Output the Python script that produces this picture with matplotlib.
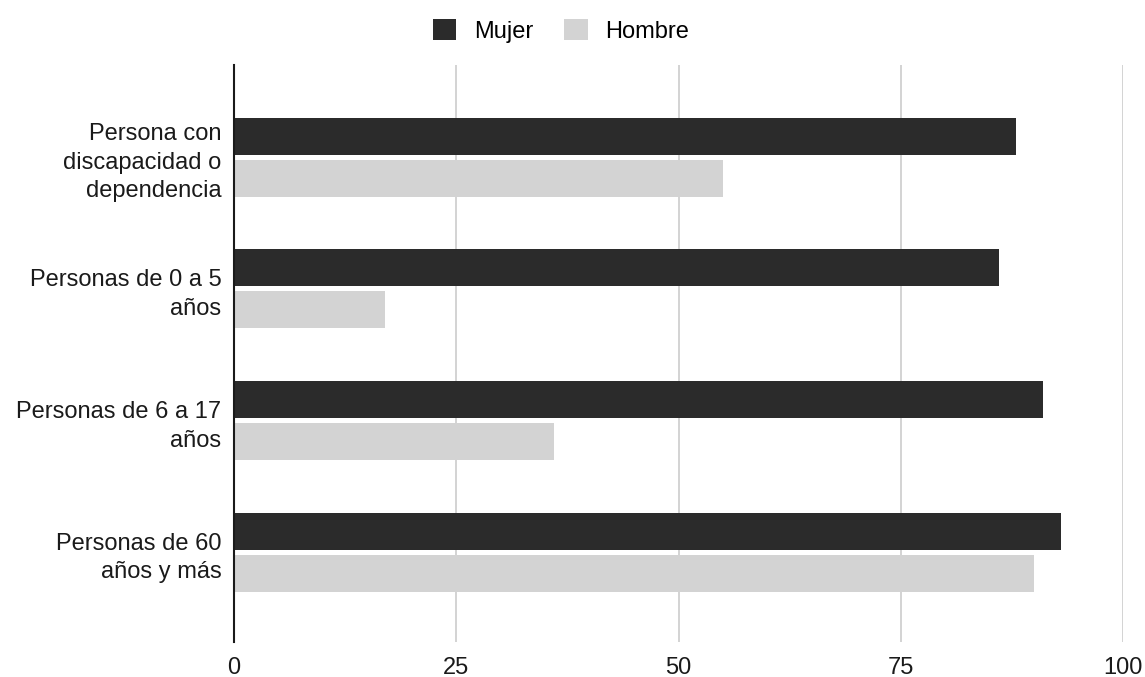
import numpy as np
import matplotlib.pyplot as plt

plt.rcParams['font.family'] = ['Liberation Sans', 'DejaVu Sans']

categories = ['Persona con\ndiscapacidad o\ndependencia',
              'Personas de 0 a 5\naños',
              'Personas de 6 a 17\naños',
              'Personas de 60\naños y más']
mujer = [88, 86, 91, 93]
hombre = [55, 17, 36, 90]
xticks = [0, 25, 50, 75, 100]

fig = plt.figure(figsize=(11.45, 6.77), dpi=100)
ax = fig.add_axes([0.2044, 0.052, 0.7764, 0.852])

y = np.arange(len(categories))
h = 0.28
ax.barh(y - 0.16, mujer, height=h, color='#2b2b2b', label='Mujer', zorder=3)
ax.barh(y + 0.16, hombre, height=h, color='#d3d3d3', label='Hombre', zorder=3)

ax.set_ylim(3.68, -0.7)
ax.set_xlim(0, 100)
ax.set_xticks(xticks)
ax.set_xticklabels([str(t) for t in xticks], fontsize=17, color='#1a1a1a')
ax.set_yticks(y)
ax.set_yticklabels(categories, fontsize=17, color='#1a1a1a', linespacing=1.38)
ax.tick_params(axis='x', length=0, pad=11)
ax.tick_params(axis='y', length=0, pad=9)
ax.grid(axis='x', color='#cccccc', linewidth=1.2, zorder=0)
for s in ['top', 'right', 'bottom']:
    ax.spines[s].set_visible(False)
ax.spines['left'].set_color('#1a1a1a')
ax.spines['left'].set_linewidth(1.5)
ax.spines['left'].set_zorder(4)

fig.legend(loc='upper center', bbox_to_anchor=(0.49, 1.003), ncol=2, frameon=False,
           fontsize=17, handlelength=1.0, handleheight=1.0, columnspacing=1.3,
           handletextpad=0.75)

fig.savefig('out.png', dpi=100)
